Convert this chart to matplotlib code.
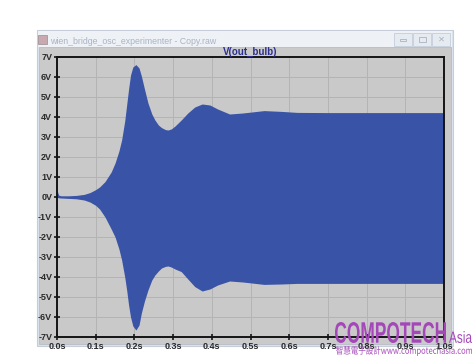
import numpy as np
import matplotlib
matplotlib.use("Agg")
import matplotlib.pyplot as plt
from matplotlib.patches import Rectangle, PathPatch
from matplotlib.textpath import TextPath
from matplotlib.font_manager import FontProperties
from matplotlib.transforms import Affine2D, IdentityTransform

W, H = 476, 362

# envelope of V(out_bulb)
t_env = [0.0, 0.004, 0.01, 0.03, 0.05, 0.07, 0.085, 0.1, 0.11, 0.124, 0.14, 0.15,
         0.16, 0.167, 0.175, 0.18, 0.185, 0.19, 0.196, 0.204, 0.212, 0.218, 0.226,
         0.235, 0.245, 0.253, 0.262, 0.27, 0.28, 0.287, 0.295, 0.305, 0.321, 0.338,
         0.356, 0.375, 0.395, 0.415, 0.446, 0.48, 0.535, 0.58, 0.62, 0.7, 0.8, 0.9, 1.0]
v_upper = [0.35, 0.1, 0.06, 0.06, 0.08, 0.13, 0.22, 0.37, 0.5, 0.77, 1.25, 1.7,
           2.3, 2.85, 3.8, 4.6, 5.4, 6.1, 6.5, 6.62, 6.45, 6.05, 5.4,
           4.7, 4.15, 3.85, 3.6, 3.47, 3.37, 3.35, 3.4, 3.55, 3.85, 4.2,
           4.5, 4.65, 4.6, 4.4, 4.15, 4.2, 4.32, 4.28, 4.23, 4.22, 4.22, 4.22, 4.22]
v_lower = [-0.02, -0.04, -0.05, -0.07, -0.09, -0.15, -0.25, -0.42, -0.6, -1.0, -1.6, -2.0,
           -2.6, -3.15, -4.0, -4.65, -5.4, -6.0, -6.45, -6.65, -6.4, -5.8, -5.2,
           -4.65, -4.15, -3.9, -3.7, -3.55, -3.47, -3.45, -3.5, -3.6, -3.73, -4.1,
           -4.48, -4.7, -4.6, -4.4, -4.2, -4.25, -4.37, -4.35, -4.32, -4.32, -4.32, -4.32, -4.32]

x_ticks = [0.0, 0.1, 0.2, 0.3, 0.4, 0.5, 0.6, 0.7, 0.8, 0.9, 1.0]
x_labels = ["0.0s", "0.1s", "0.2s", "0.3s", "0.4s", "0.5s", "0.6s", "0.7s", "0.8s", "0.9s", "1.0s"]
y_ticks = list(range(-7, 8))
y_labels = ["%dV" % v for v in y_ticks]

win_title = "wien_bridge_osc_experimenter - Copy.raw"
trace_name = "V(out_bulb)"


def fx(x):
    return x / W


def fy(y):
    return 1 - y / H


def rect(fig, x0, y0, x1, y1, z=-5, **kw):
    r = Rectangle((fx(x0), fy(y1)), fx(x1) - fx(x0), fy(y0) - fy(y1),
                  transform=fig.transFigure, zorder=z, **kw)
    fig.add_artist(r)


def fit_text(fig, s, x0, x1, ytop, ybot, color, family, weight="bold"):
    # text drawn as a path, stretched to the box it covers in the screenshot
    tp = TextPath((0, 0), s, size=1, prop=FontProperties(family=family, weight=weight))
    ext = tp.get_extents()
    sx = (x1 - x0) / ext.width
    sy = (ybot - ytop) / ext.height
    tr = Affine2D().translate(-ext.x0, -ext.y0).scale(sx, sy).translate(x0, H - ybot)
    fig.add_artist(PathPatch(tr.transform_path(tp), transform=IdentityTransform(),
                             color=color, lw=0, zorder=10))


fig = plt.figure(figsize=(W / 100, H / 100), dpi=100)
fig.patch.set_facecolor("white")

# window frame, title bar and plot pane
rect(fig, 37, 30, 453, 346, facecolor="#dbe3ec", edgecolor="#c4cdd8", lw=0.8)
rect(fig, 38, 31, 452, 47, facecolor="#eef2f7", edgecolor="none")
rect(fig, 39, 47, 451, 344, facecolor="#cacaca", edgecolor="#b8bec6", lw=0.6)
rect(fig, 38, 35, 47, 44, facecolor="#c9a9b0", edgecolor="#9a8a90", lw=0.5)
for bx in [394, 413, 432]:
    rect(fig, bx, 33, bx + 18, 46, facecolor="#e6ebf1", edgecolor="#c5ced9", lw=0.6)
rect(fig, 400, 39, 406, 41, facecolor="none", edgecolor="#a8b2bf", lw=0.6)
rect(fig, 419, 37, 426, 42, facecolor="none", edgecolor="#a8b2bf", lw=0.6)
fig.text(fx(441), fy(39.5), "\u2715", fontsize=6, color="#a8b2bf", ha="center", va="center")
fig.text(fx(50), fy(42), win_title, fontsize=6.3, color="#aab3c2",
         family="Liberation Sans", ha="left", va="center")

ax = fig.add_axes([fx(57), fy(337), fx(444) - fx(57), fy(57) - fy(337)])
ax.set_facecolor("#c9c9c9")
ax.fill_between(t_env, v_lower, v_upper, color="#3953a6", lw=0, zorder=2)
ax.set_xlim(0, 1)
ax.set_ylim(-7, 7)
ax.set_xticks(x_ticks)
ax.set_xticklabels(x_labels)
ax.set_yticks(y_ticks)
ax.set_yticklabels(y_labels)
ax.grid(True, color="#b4b4b4", lw=0.7, zorder=1)
ax.set_axisbelow(True)
for sp in ax.spines.values():
    sp.set_linewidth(1.4)
    sp.set_color("#151515")
ax.tick_params(direction="inout", length=5, width=1.2, color="#151515", pad=1,
               labelsize=6.5, labelcolor="#2a2a2a")
for lab in ax.get_xticklabels() + ax.get_yticklabels():
    lab.set_fontweight("bold")
    lab.set_family("Liberation Sans")

fig.text(fx(250), fy(52), trace_name, fontsize=7, color="#2b2f8f", fontweight="bold",
         family="Liberation Sans", ha="center", va="center")

# watermark
purple = "#a447b8"
fit_text(fig, "COMPOTECH", 335, 446, 322, 343, purple, "Liberation Sans")
fit_text(fig, "Asia", 449, 472, 331, 343, purple, "Liberation Sans", weight="normal")
fit_text(fig, "\u667a\u6167\u96fb\u5b50\u8a2d\u8a08www.compotechasia.com", 336, 472, 346, 356,
         purple, "Noto Sans CJK TC", weight="normal")

fig.savefig("out.png", dpi=100)
